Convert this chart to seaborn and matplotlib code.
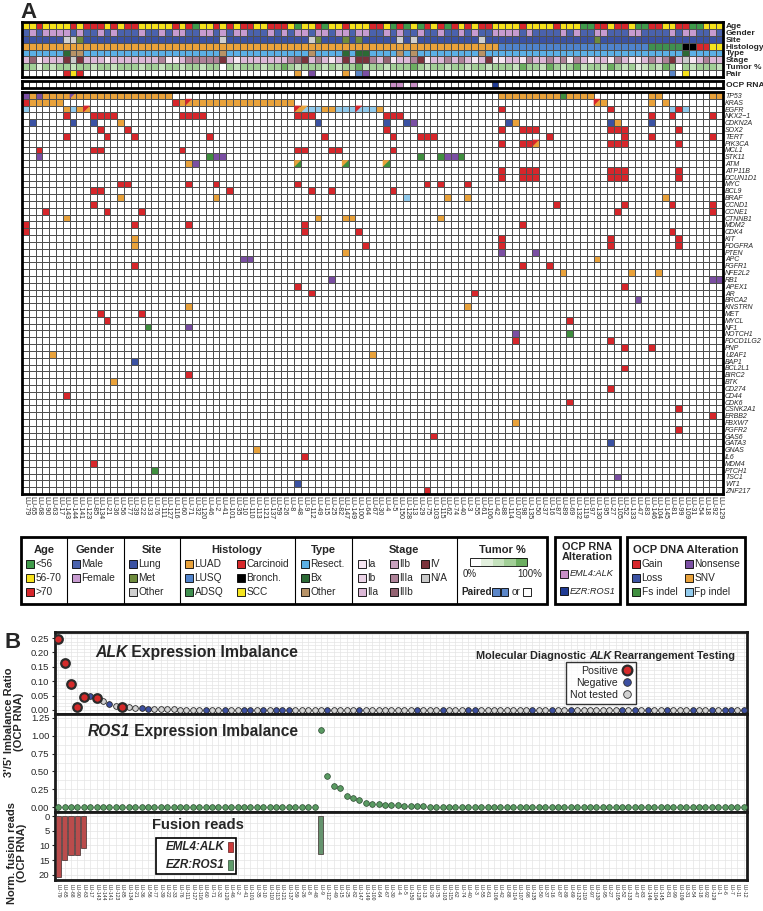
import re
import numpy as np
import pandas as pd
import matplotlib
matplotlib.use("Agg")
import matplotlib.pyplot as plt
from matplotlib import font_manager
from matplotlib.colors import ListedColormap
from matplotlib.patches import Rectangle, Polygon
from matplotlib.lines import Line2D
import seaborn as sns

# ---------------- panel A data ----------------
samples_a = ["LU-79", "LU-65", "LU-68", "LU-90", "LU-63", "LU-17", "LU-143", "LU-144", "LU-141", "LU-123",
             "LU-85", "LU-134", "LU-21", "LU-36", "LU-56", "LU-77", "LU-39", "LU-22", "LU-33", "LU-76",
             "LU-111", "LU-127", "LU-116", "LU-60", "LU-71", "LU-32", "LU-120", "LU-46", "LU-2", "LU-41",
             "LU-101", "LU-35", "LU-10", "LU-110", "LU-113", "LU-121", "LU-137", "LU-59", "LU-26", "LU-8",
             "LU-48", "LU-9", "LU-112", "LU-49", "LU-15", "LU-25", "LU-82", "LU-147", "LU-149", "LU-100",
             "LU-64", "LU-67", "LU-30", "LU-4", "LU-5", "LU-150", "LU-128", "LU-13", "LU-29", "LU-75",
             "LU-103", "LU-115", "LU-62", "LU-74", "LU-40", "LU-3", "LU-55", "LU-61", "LU-106", "LU-42",
             "LU-88", "LU-114", "LU-107", "LU-98", "LU-135", "LU-50", "LU-37", "LU-16", "LU-87", "LU-89",
             "LU-69", "LU-132", "LU-119", "LU-97", "LU-130", "LU-95", "LU-27", "LU-105", "LU-52", "LU-133",
             "LU-47", "LU-83", "LU-146", "LU-104", "LU-145", "LU-81", "LU-99", "LU-109", "LU-31", "LU-54",
             "LU-18", "LU-92", "LU-129"]

age = list("YYRYYYYRYRRRYRYRRYYYYYRYRGYYRYRYRR" "YYRRRYGYYRGYYRYYYRRYGRGYGRYRGRYRYRRYY"
           "YYRYYYYRYYYGGRRYRRYGGRRYYRRGGYYY")
gender = list("MFMFFFFMFMMFMFMMMFMMFMFFMMFFMFMFFM" "MMFMFMFFMFFMFFMFFMMFMFMMFMMFMMFMFMMFF"
              "FFMFMMMMFMFMMFFMMMFFMMMMFMFFMMFM")
site = list("LLLLLLOOTLLLLLLLLLLLLLLLLLLLLOLLLL" "LLLLLLLLOTLLLTLTLLLLLOLOLLLLLLLLLOLLL"
            "LLLLLLLLLLLLLTLLLLLLLLLLLLLLLLLL")
histology = list("A" * 70 + "Q" * 22 + "D" * 5 + "B" * 2 + "C" * 2 + "S" * 2)
sample_type = list("RRRRRRBOORRRRRRRRRRRRRRRRRRRRORRRR" "RRRRRRRRORRRRBRBBRRRRORORRRRRRRRRORRR"
                   "RRRRRRRRRRRRRRRRRRRRRRRRRRBRRRRR")
stage = list("3613337873331333333351135555573133" "3333356735313737753613357133535313711"
             "33153353515313315311353573813533")
tumor = list("3313233233233233323323323323303233" "3233432333232334233233343233233233233"
             "32433243234233243231232430323332")
pair = list("......rYr........................." "......o.p....o.bp...................."
            "........................b.Y.....")
ocp_rna = list("." * 54 + "AA.A" + "." * 11 + "R" + "." * 33)

genes = ["TP53", "KRAS", "EGFR", "NKX2\u22121", "CDKN2A", "SOX2", "TERT", "PIK3CA", "MCL1", "STK11",
         "ATM", "ATP11B", "DCUN1D1", "MYC", "BCL9", "BRAF", "CCND1", "CCNE1", "CTNNB1", "MDM2",
         "CDK4", "KIT", "PDGFRA", "PTEN", "APC", "FGFR1", "NFE2L2", "RB1", "APEX1", "AR",
         "BRCA2", "KNSTRN", "MET", "MYCL", "NF1", "NOTCH1", "PDCD1LG2", "PNP", "U2AF1", "BAP1",
         "BCL2L1", "BIRC2", "BTK", "CD274", "CD44", "CDK6", "CSNK2A1", "ERBB2", "FBXW7", "FGFR2",
         "GAS6", "GATA3", "GNAS", "IL6", "MDM4", "PTCH1", "TSC1", "WT1", "ZNF217"]
# G gain, L loss, F fs indel, N nonsense, S SNV, P fp indel; "X/Y" = split cell
dna_alt = ["N0 S1 N2 S3-21 N/S7 S70-78 F79 S80-83 S92-93 S101-102",
           "G0 S1-5 G22 S23 G/S24 S25-39 G/S84 S85 S92 S94",
           "P0 S6 P7 S8 G/S9 G/S40 S/P41 P42-43 S44-45 P46-48 G/P49 P50-51 S52 G70 G86 P95 G96 P97",
           "G6 G10-13 G23-26 G40-42 G53-55 G92 G95 G101",
           "L1 L7 L10 S14 L43 L53 L56 N57 L71 S72 L86 S87 L92",
           "G11 G15 G53 G70 G73-75 G86-88 G96",
           "G6 G12 G16 G27 G44 G54 G58-60 G77 G88 G92 G101",
           "G70 G73-74 G/S75 G86-88 G96",
           "G2 G10-11 G23 G40-41 G45-46 G54",
           "N2 F27 N28-29 F58 F61 N62-63 F64",
           "S24 N25 S/F40 S/F47 S/F53",
           "G70 G73-75 G86-88 G96",
           "G70 G73-75 G86-88 G96",
           "G14-15 G24 G28 G40 G59 G61 G65",
           "G10-11 G30 G42 G45 G54",
           "S14 S28 P56 S62 S65 S94",
           "G10 G78 G88 G95 G101",
           "G3 G12 G17 G87 G101",
           "S6 S43 S47-48 S61",
           "G0 G16 G24 G41 G73",
           "G0 G41 G49 G95",
           "S16 G70 G86 G96",
           "S16 G50 G70 G86 G96",
           "S47 N70 N75",
           "N32-33 S84",
           "G16 G73 G77",
           "S79 S89 S93",
           "N45 N101-102",
           "G40 G88",
           "G42 G66",
           "N90",
           "S24 S65",
           "G11 G17",
           "G12 G80",
           "F18 N24",
           "N72 F80",
           "G72 G86",
           "G88 G92",
           "S4 S51",
           "L16",
           "G88",
           "G24",
           "S13",
           "G86",
           "G6",
           "G80",
           "G96",
           "G101",
           "S72",
           "G96",
           "G60",
           "L86",
           "S34",
           "G41",
           "G10",
           "F19",
           "N87",
           "L40",
           "G59"]

# ---------------- panel B data ----------------
samples_b = samples_a + ["LU-1", "LU-6", "LU-7", "LU-11", "LU-12"]
alk_ratio = [0.245, 0.165, 0.09, 0.012, 0.045, 0.047, 0.043, 0.030, 0.020, 0.015, 0.012, 0.010,
             0.008, 0.006, 0.005, 0.004, 0.003, 0.002, 0.002, 0.001] + [0.0] * 88
alk_status = list("PPPPPNPUNUPUUNNUUUUUUUUNUUNUUNNUNUNNNUUUUUNUUUUNUUUUUUUUNUUUNUUUNNUUUUUUUUNUUNUUNUUUUUUUNUNUNUUNUUUNUUNUNNUN")
ros1_ratio = [0.0] * 41 + [1.08, 0.44, 0.30, 0.26, 0.16, 0.12, 0.10, 0.05, 0.045, 0.04, 0.035, 0.03,
                           0.025, 0.02, 0.015, 0.01, 0.008, 0.005] + [0.0] * 49
fusion_reads = [20.8, 15.0, 13.2, 13.3, 11.0] + [0.0] * 36 + [12.8] + [0.0] * 66
fusion_type = ["EML4:ALK"] * 5 + ["none"] * 36 + ["EZR:ROS1"] + ["none"] * 66

# ---------------- colours ----------------
age_col = {"G": "#3f9b4a", "Y": "#f6e11c", "R": "#d7262b"}
gender_col = {"M": "#4a62ad", "F": "#c79bd0"}
site_col = {"L": "#3b52a3", "T": "#6e8b3d", "O": "#cfcfcf"}
hist_col = {"A": "#e9a23b", "Q": "#4f83cc", "D": "#3f8f4f", "C": "#d8282b", "B": "#000000", "S": "#f5e51e"}
type_col = {"R": "#5bb0e6", "B": "#2c6a35", "O": "#b79266"}
stage_col = {"1": "#f6e6f1", "2": "#ead3e6", "3": "#dcb8d7", "4": "#c8a1bd", "5": "#ae8298",
             "6": "#946372", "7": "#7b323b", "8": "#cacaca"}
tumor_col = {"0": "#ffffff", "1": "#e3f0de", "2": "#c5e2bd", "3": "#a2cf97", "4": "#6cae60"}
pair_col = {".": "#ffffff", "r": "#d7262b", "Y": "#f6e11c", "o": "#e9a23b", "p": "#7b4fa3", "b": "#5b86c8"}
rna_col = {".": "#ffffff", "A": "#c98fc6", "R": "#1f3a93"}
dna_col = {"G": "#d7262b", "L": "#3b52a3", "F": "#3f8f3f", "N": "#7b4fa3", "S": "#e9a23b", "P": "#92cbed"}

names = {f.name for f in font_manager.fontManager.ttflist}
base = next(n for n in ["Liberation Sans Narrow", "DejaVu Sans Condensed", "Liberation Sans", "DejaVu Sans"]
            if n in names)
sns.set_theme(style="white")
plt.rcParams["font.family"] = [base, "DejaVu Sans"]

palette = ["#ffffff"]


def pidx(c):
    if c not in palette:
        palette.append(c)
    return palette.index(c)


n_a = len(samples_a)
tracks = [("Age", age, age_col), ("Gender", gender, gender_col), ("Site", site, site_col),
          ("Histology", histology, hist_col), ("Type", sample_type, type_col), ("Stage", stage, stage_col),
          ("Tumor %", tumor, tumor_col), ("Pair", pair, pair_col)]
clin = pd.DataFrame([[pidx(cmap_[v]) for v in vals[:n_a]] for _, vals, cmap_ in tracks],
                    index=[t[0] for t in tracks])
rna = pd.DataFrame([[pidx(rna_col[v]) for v in ocp_rna[:n_a]]], index=["OCP RNA"])

gmat = np.zeros((len(genes), n_a), dtype=int)
splits = []
for r, spec in enumerate(dna_alt):
    for code, a, b in re.findall(r"([A-Z/]+)(\d+)(?:-(\d+))?", spec):
        for c in range(int(a), int(b or a) + 1):
            if "/" in code:
                c1, c2 = code.split("/")
                gmat[r, c] = pidx(dna_col[c2])
                splits.append((r, c, dna_col[c1]))
            else:
                gmat[r, c] = pidx(dna_col[code])
gdf = pd.DataFrame(gmat, index=genes)
cmap = ListedColormap(palette)

# ---------------- figure ----------------
W, H = 763, 911
fig = plt.figure(figsize=(W / 100, H / 100), dpi=100)


def px_axes(x0, y0, x1, y1):
    return fig.add_axes([x0 / W, 1 - y1 / H, (x1 - x0) / W, (y1 - y0) / H])


def heat(ax, df, lab_kw, pad=2):
    sns.heatmap(df, ax=ax, cmap=cmap, vmin=-0.5, vmax=len(palette) - 0.5, cbar=False,
                linewidths=0.45, linecolor="#505050", xticklabels=False, yticklabels=True)
    ax.yaxis.tick_right()
    ax.tick_params(axis="y", length=0, pad=pad)
    plt.setp(ax.get_yticklabels(), rotation=0, **lab_kw)
    for s in ax.spines.values():
        s.set_visible(True)
        s.set_linewidth(2.0)
        s.set_color("black")


ax_clin = px_axes(22, 22, 723, 77)
heat(ax_clin, clin, dict(fontsize=6.0, fontweight="bold"))
ax_rna = px_axes(22, 81, 723, 88)
heat(ax_rna, rna, dict(fontsize=6.0, fontweight="bold"))
ax_gene = px_axes(22, 92, 723, 494)
heat(ax_gene, gdf, dict(fontsize=5.0, fontstyle="italic"), pad=1.5)
for r, c, col in splits:
    ax_gene.add_patch(Polygon([(c, r), (c + 1, r), (c, r + 1)], closed=True, facecolor=col, lw=0))
ax_gene.set_xticks(np.arange(n_a) + 0.5)
ax_gene.set_xticklabels(samples_a, rotation=-90, fontsize=5.0)
ax_gene.tick_params(axis="x", length=0, pad=1.5)

# ---------------- panel B ----------------
n_b = len(samples_b)
status_name = {"P": "Positive", "N": "Negative", "U": "Not tested"}
dfb = pd.DataFrame({"idx": np.arange(n_b), "sample": samples_b, "alk": alk_ratio,
                    "status": [status_name[s] for s in alk_status], "ros1": ros1_ratio,
                    "reads": fusion_reads, "fusion": fusion_type})

axA = px_axes(55, 632, 747, 714)
axR = px_axes(55, 714, 747, 812)
axF = px_axes(55, 812, 747, 880)

alk_style = {"Not tested": ("#d2d2d2", 17, 0.6), "Negative": ("#3c4fa0", 17, 0.6),
             "Positive": ("#d42a2a", 38, 1.6)}
for st in ["Not tested", "Negative", "Positive"]:
    col, s, ew = alk_style[st]
    sns.scatterplot(data=dfb[dfb.status == st], x="idx", y="alk", color=col, s=s, edgecolor="#2b2b2b",
                    linewidth=ew, ax=axA, zorder=3, legend=False)
sns.scatterplot(data=dfb, x="idx", y="ros1", color="#5a9a62", s=17, edgecolor="#2b4a30", linewidth=0.5,
                ax=axR, zorder=3, legend=False)
fus = dfb[dfb.fusion != "none"]
sns.barplot(data=fus, x="idx", y="reads", hue="fusion", order=list(range(n_b)), dodge=False, width=0.8,
            legend=False, palette={"EML4:ALK": "#cc3a3a", "EZR:ROS1": "#5e9c6a"},
            edgecolor="#3a2a2a", linewidth=0.5, ax=axF, zorder=3)

for ax in (axA, axR, axF):
    ax.set_xlim(-0.5, n_b - 0.5)
    ax.set_xticks(np.arange(n_b))
    ax.grid(True, axis="x", color="#e4e4e4", lw=0.5)
    ax.grid(True, axis="y", which="both", color="#e4e4e4", lw=0.5)
    ax.set_axisbelow(True)
    ax.set_xlabel("")
    ax.set_ylabel("")
    ax.tick_params(axis="y", labelsize=6.8, length=2.5, width=0.8, pad=1.5, left=True)
    for s in ax.spines.values():
        s.set_linewidth(2.0)
        s.set_color("#1a1a1a")

axA.set_ylim(-0.0139, 0.271)
axA.set_yticks([0, 0.05, 0.10, 0.15, 0.20, 0.25])
axA.set_yticks(np.arange(0, 0.27, 0.0125), minor=True)
axA.set_yticklabels(["0.00", "0.05", "0.10", "0.15", "0.20", "0.25"])
axA.tick_params(axis="x", labelbottom=False, length=0)
axA.tick_params(axis="y", which="minor", length=0)

axR.set_ylim(-0.07, 1.306)
axR.set_yticks([0, 0.25, 0.5, 0.75, 1.0, 1.25])
axR.set_yticks(np.arange(0, 1.3, 0.125), minor=True)
axR.set_yticklabels(["0.00", "0.25", "0.50", "0.75", "1.00", "1.25"])
axR.tick_params(axis="x", labelbottom=False, length=0)
axR.tick_params(axis="y", which="minor", length=0)

axF.set_ylim(21.7, -1.36)
axF.set_yticks([0, 5, 10, 15, 20])
axF.set_yticks(np.arange(0, 22, 2.5), minor=True)
axF.tick_params(axis="y", which="minor", length=0)
axF.set_xticklabels(samples_b, rotation=-90, fontsize=3.6)
axF.tick_params(axis="x", length=2, width=0.5, pad=1)

handles = [Line2D([], [], marker="o", ls="", mfc="#d42a2a", mec="#2b2b2b", mew=1.6, ms=7, label="Positive"),
           Line2D([], [], marker="o", ls="", mfc="#3c4fa0", mec="#2b2b2b", mew=0.6, ms=5.5, label="Negative"),
           Line2D([], [], marker="o", ls="", mfc="#d2d2d2", mec="#2b2b2b", mew=0.6, ms=5.5, label="Not tested")]
leg = axA.legend(handles=handles, loc="upper left", bbox_to_anchor=(566 / W, 1 - 662 / H),
                 bbox_transform=fig.transFigure, markerfirst=False, fontsize=7.6, frameon=True,
                 handletextpad=0.4, borderpad=0.35, labelspacing=0.2, handlelength=1.0, fancybox=False,
                 borderaxespad=0)
leg.get_frame().set_edgecolor("black")
leg.get_frame().set_linewidth(1.0)
for t in leg.get_texts():
    t.set_ha("right")

# ---------------- overlay for panel labels and legends ----------------
ov = px_axes(0, 0, W, H)
ov.set_xlim(0, W)
ov.set_ylim(H, 0)
ov.axis("off")
ov.set_zorder(20)

ov.text(20, 12, "A", fontsize=16, fontweight="bold", va="center", ha="left")
ov.text(5, 642, "B", fontsize=16, fontweight="bold", va="center", ha="left")

rows_y = [564, 578, 592]


def item(x, y, color, label, style="normal", size=7.3):
    ov.add_patch(Rectangle((x, y - 3.8), 7.6, 7.6, facecolor=color, edgecolor="black", lw=0.6))
    ov.text(x + 9.5, y, label, va="center", ha="left", fontsize=size, fontstyle=style)


ov.add_patch(Rectangle((21, 537), 526, 67, fill=False, lw=2, edgecolor="black"))
for xd in [67, 124, 180, 295, 352, 457]:
    ov.plot([xd, xd], [537, 604], color="black", lw=0.8)
for title, xc in [("Age", 44), ("Gender", 95.5), ("Site", 152), ("Histology", 237), ("Type", 323),
                  ("Stage", 404), ("Tumor %", 502)]:
    ov.text(xc, 550, title, ha="center", va="center", fontsize=8, fontweight="bold")
for y, k, lab in zip(rows_y, "GYR", ["<56", "56-70", ">70"]):
    item(26, y, age_col[k], lab)
for y, k, lab in zip(rows_y, "MF", ["Male", "Female"]):
    item(72, y, gender_col[k], lab)
for y, k, lab in zip(rows_y, "LTO", ["Lung", "Met", "Other"]):
    item(129, y, site_col[k], lab)
for y, k, lab in zip(rows_y, "AQD", ["LUAD", "LUSQ", "ADSQ"]):
    item(185, y, hist_col[k], lab)
for y, k, lab in zip(rows_y, "CBS", ["Carcinoid", "Bronch.", "SCC"]):
    item(237, y, hist_col[k], lab)
for y, k, lab in zip(rows_y, "RBO", ["Resect.", "Bx", "Other"]):
    item(301, y, type_col[k], lab)
for y, k, lab in zip(rows_y, "123", ["Ia", "Ib", "IIa"]):
    item(358, y, stage_col[k], lab)
for y, k, lab in zip(rows_y, "456", ["IIb", "IIIa", "IIIb"]):
    item(390, y, stage_col[k], lab)
for y, k, lab in zip(rows_y, "78", ["IV", "N/A"]):
    item(421, y, stage_col[k], lab)
for i, k in enumerate("01234"):
    ov.add_patch(Rectangle((470 + i * 11.4, 558), 11.4, 8, facecolor=tumor_col[k], lw=0))
ov.add_patch(Rectangle((470, 558), 57, 8, fill=False, edgecolor="black", lw=0.6))
ov.text(470, 574, "0%", ha="center", va="center", fontsize=7)
ov.text(530, 574, "100%", ha="center", va="center", fontsize=7)
ov.text(461, 592, "Paired", ha="left", va="center", fontsize=7.2, fontweight="bold")
ov.add_patch(Rectangle((492, 588.2), 7.6, 7.6, facecolor="#5b86c8", edgecolor="black", lw=0.6))
ov.add_patch(Rectangle((500.5, 588.2), 7.6, 7.6, facecolor="#5b86c8", edgecolor="black", lw=0.6))
ov.text(512, 592, "or", ha="left", va="center", fontsize=7.2)
ov.add_patch(Rectangle((523, 588.2), 7.6, 7.6, facecolor="white", edgecolor="black", lw=0.6))

ov.add_patch(Rectangle((555, 537), 65, 67, fill=False, lw=2, edgecolor="black"))
ov.text(587.5, 552, "OCP RNA\nAlteration", ha="center", va="center", fontsize=7.8, fontweight="bold",
        linespacing=0.95)
item(560, 574, rna_col["A"], "EML4:ALK", style="italic", size=6.6)
item(560, 591, rna_col["R"], "EZR:ROS1", style="italic", size=6.6)

ov.add_patch(Rectangle((627, 537), 118, 67, fill=False, lw=2, edgecolor="black"))
ov.text(686, 550, "OCP DNA Alteration", ha="center", va="center", fontsize=8, fontweight="bold")
for y, k, lab in zip(rows_y, "GLF", ["Gain", "Loss", "Fs indel"]):
    item(632, y, dna_col[k], lab)
for y, k, lab in zip(rows_y, "NSP", ["Nonsense", "SNV", "Fp indel"]):
    item(685, y, dna_col[k], lab)

ov.text(14, 722, "3'/5' Imbalance Ratio\n(OCP RNA)", rotation=90, ha="center", va="center",
        fontsize=8, fontweight="bold", linespacing=1.0)
ov.text(17, 853, "Norm. fusion reads\n(OCP RNA)", rotation=90, ha="center", va="center",
        fontsize=8, fontweight="bold", linespacing=1.0)


def rich(x, y, parts, size):
    t = ov.text(x, y, parts[0][0], fontstyle=parts[0][1], fontweight="bold", fontsize=size,
                ha="left", va="bottom")
    for txt, st in parts[1:]:
        t = ov.annotate(txt, xy=(1, 0), xycoords=t, fontstyle=st, fontweight="bold", fontsize=size,
                        ha="left", va="bottom")


rich(95, 660, [("ALK", "italic"), (" Expression Imbalance", "normal")], 11.3)
rich(88, 739, [("ROS1", "italic"), (" Expression Imbalance", "normal")], 11.2)
ov.text(152, 825, "Fusion reads", fontsize=10.6, fontweight="bold", ha="left", va="center")
rich(476, 661, [("Molecular Diagnostic ", "normal"), ("ALK", "italic"), (" Rearrangement Testing", "normal")], 7.8)

ov.add_patch(Rectangle((156, 838), 80, 36, facecolor="white", edgecolor="black", lw=1.2))
ov.text(225, 847, "EML4:ALK", ha="right", va="center", fontsize=8.4, fontweight="bold", fontstyle="italic")
ov.text(225, 865, "EZR:ROS1", ha="right", va="center", fontsize=8.4, fontweight="bold", fontstyle="italic")
ov.add_patch(Rectangle((228, 842), 5, 10, facecolor="#cc3a3a", edgecolor="#5a1a1a", lw=0.5))
ov.add_patch(Rectangle((228, 860), 5, 10, facecolor="#5e9c6a", edgecolor="#2b4a30", lw=0.5))

fig.savefig("out.png", dpi=100)
